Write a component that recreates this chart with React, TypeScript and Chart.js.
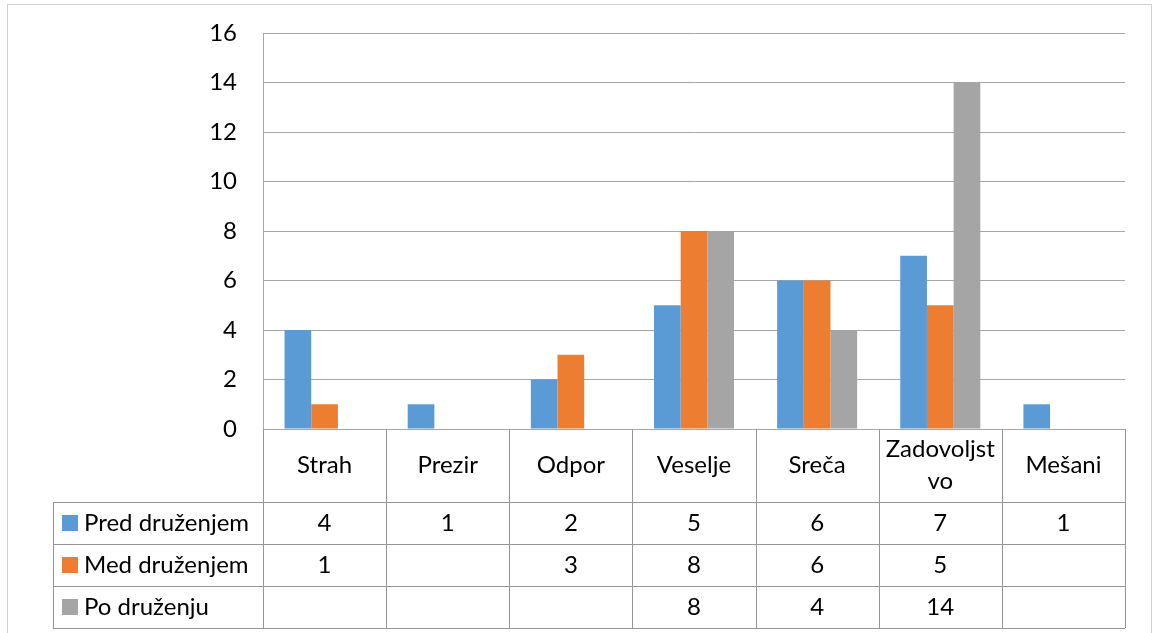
import React, { useEffect, useRef } from "react";
import { Chart, registerables } from "chart.js";

Chart.register(...registerables);

const categories = ["Strah", "Prezir", "Odpor", "Veselje", "Sreča", "Zadovoljstvo", "Mešani"];
const categoryLines = [["Strah"], ["Prezir"], ["Odpor"], ["Veselje"], ["Sreča"], ["Zadovoljst", "vo"], ["Mešani"]];
const seriesNames = ["Pred druženjem", "Med druženjem", "Po druženju"];
const predValues = [4, 1, 2, 5, 6, 7, 1];
const medValues = [1, null, 3, 8, 6, 5, null];
const poValues = [null, null, null, 8, 4, 14, null];
const yTicks = [0, 2, 4, 6, 8, 10, 12, 14, 16];

const COLORS = ["#5B9BD5", "#ED7D31", "#A5A5A5"];
const FONT = "Lato, 'Open Sans', sans-serif";
const FS = 24;

export default function App() {
  const ref = useRef<HTMLCanvasElement | null>(null);
  useEffect(() => {
    document.body.style.margin = "0";
    const canvas = ref.current!;
    const allSeries = [predValues, medValues, poValues];
    const tablePlugin = {
      id: "dataTable",
      afterDraw(chart: any) {
        const ctx = chart.ctx as CanvasRenderingContext2D;
        const xs = chart.scales.x;
        const ca = chart.chartArea;
        const n = categories.length;
        const catW = (ca.right - ca.left) / n;
        const top = ca.bottom;
        const headerH = 73;
        const rowH = 42;
        const tableLeft = 53;
        const rowsTop = top + headerH;
        const bottom = rowsTop + rowH * 3;
        ctx.save();
        // outer border
        ctx.strokeStyle = "#d0d0d0";
        ctx.lineWidth = 1;
        ctx.strokeRect(7.5, 4.5, 1144, 700);
        // table lines
        ctx.strokeStyle = "#969696";
        ctx.beginPath();
        for (let r = 0; r <= 3; r++) {
          const y = Math.round(rowsTop + r * rowH) + 0.5;
          ctx.moveTo(tableLeft, y);
          ctx.lineTo(ca.right, y);
        }
        ctx.moveTo(tableLeft + 0.5, rowsTop);
        ctx.lineTo(tableLeft + 0.5, bottom);
        for (let i = 0; i <= n; i++) {
          const x = Math.round(ca.left + i * catW) + 0.5;
          ctx.moveTo(x, top);
          ctx.lineTo(x, bottom);
        }
        ctx.stroke();
        // header labels
        ctx.fillStyle = "#000";
        ctx.font = `${FS}px ${FONT}`;
        ctx.textAlign = "center";
        ctx.textBaseline = "middle";
        categoryLines.forEach((lines, i) => {
          const cx = xs.getPixelForValue(i);
          const cy = top + headerH / 2;
          const lh = 32;
          lines.forEach((t, k) => {
            ctx.fillText(t, cx, cy + (k - (lines.length - 1) / 2) * lh);
          });
        });
        // rows
        allSeries.forEach((vals, r) => {
          const cy = rowsTop + r * rowH + rowH / 2;
          ctx.fillStyle = COLORS[r];
          ctx.fillRect(62, cy - 8, 16, 16);
          ctx.fillStyle = "#000";
          ctx.textAlign = "left";
          ctx.fillText(seriesNames[r], 84, cy);
          ctx.textAlign = "center";
          vals.forEach((v, i) => {
            if (v !== null) ctx.fillText(String(v), xs.getPixelForValue(i), cy);
          });
        });
        ctx.restore();
      },
    };
    const chart = new Chart(canvas, {
      type: "bar",
      data: {
        labels: categories,
        datasets: seriesNames.map((name, k) => ({
          label: name,
          data: allSeries[k] as any,
          backgroundColor: COLORS[k],
          categoryPercentage: 0.65,
          barPercentage: 1,
        })),
      },
      options: {
        responsive: false,
        animation: false,
        devicePixelRatio: 1,
        layout: { padding: { left: 0, top: 33, right: 29, bottom: 204 } },
        plugins: { legend: { display: false }, tooltip: { enabled: false } },
        scales: {
          x: { display: false },
          y: {
            min: 0,
            max: 16,
            afterBuildTicks: (scale: any) => {
              scale.ticks = yTicks.map((v) => ({ value: v }));
            },
            afterFit: (scale: any) => {
              scale.width = 263;
              scale.paddingTop = 0;
              scale.paddingBottom = 0;
            },
            grid: { color: "#a6a6a6", drawTicks: false, lineWidth: 1 },
            border: { display: true, color: "#a6a6a6" },
            ticks: { padding: 26, color: "#000", font: { family: FONT, size: FS } },
          },
        },
      },
      plugins: [tablePlugin],
    });
    return () => chart.destroy();
  }, []);
  return (
    <div style={{ width: 1154, height: 633 }}>
      <canvas ref={ref} width={1154} height={633} />
    </div>
  );
}
